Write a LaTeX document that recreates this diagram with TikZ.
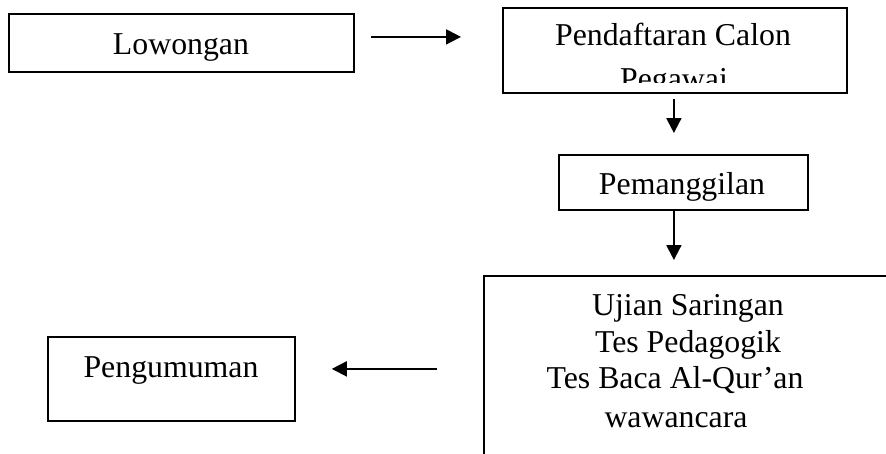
\documentclass[tikz,border=0pt]{standalone}
\usepackage{fontspec}
\setmainfont{Liberation Serif}
\usetikzlibrary{arrows.meta}
\begin{document}
\begin{tikzpicture}[x=1pt,y=-1pt,
  box/.style={draw, line width=1.8pt, inner sep=0pt, anchor=north west},
  txt/.style={inner sep=0pt, anchor=base, font=\fontsize{31.8}{37}\selectfont},
  arr/.style={line width=2pt, -{Triangle[length=15pt,width=15pt]}}]
\useasboundingbox (0,0) rectangle (886,453);
\clip (0,0) rectangle (886,453);

% frames of the five steps
\node[box, minimum width=345pt, minimum height=58pt] (low) at (8,13) {};
\node[box, minimum width=344pt, minimum height=85pt] (daftar) at (502,7) {};
\node[box, minimum width=249pt, minimum height=55pt] (panggil) at (558,154) {};
\node[box, minimum width=430pt, minimum height=220pt] (ujian) at (483,275) {};
\node[box, minimum width=247pt, minimum height=84pt] (umum) at (47,336) {};

% labels
\node[txt] (lowtxt) at (181,54) {Lowongan};
\node[txt] (daftartxt) at (673,45) {Pendaftaran Calon};
\begin{scope}
  \clip (502,7) rectangle (846,82);
  \node[txt] (daftartxtb) at (674,89) {Pegawai};
\end{scope}
\node[txt] (panggiltxt) at (682,194) {Pemanggilan};
\node[txt] (ujiana) at (688,315) {Ujian Saringan};
\node[txt] (ujianb) at (688,352) {Tes Pedagogik};
\node[txt] (ujianc) at (675,388) {Tes Baca Al-Qur’an};
\node[txt] (ujiand) at (676,427) {wawancara};
\node[txt] (umumtxt) at (171,377) {Pengumuman};

% connectors
\coordinate (a1s) at ([yshift=6pt]low.east);
\draw[arr, shorten <=16pt, shorten >=41pt] (a1s) -- (a1s -| daftar.west);
\coordinate (a2s) at ([xshift=-1pt]daftar.south);
\draw[arr, shorten <=5pt, shorten >=21pt] (a2s) -- (a2s |- panggil.north);
\coordinate (a3s) at (a2s |- panggil.south);
\draw[arr, shorten >=15pt] (a3s) -- (a3s |- ujian.north);
\coordinate (a4e) at ([yshift=10pt]umum.east);
\draw[arr, shorten <=46pt, shorten >=36pt] (a4e -| ujian.west) -- (a4e);
\end{tikzpicture}
\end{document}
